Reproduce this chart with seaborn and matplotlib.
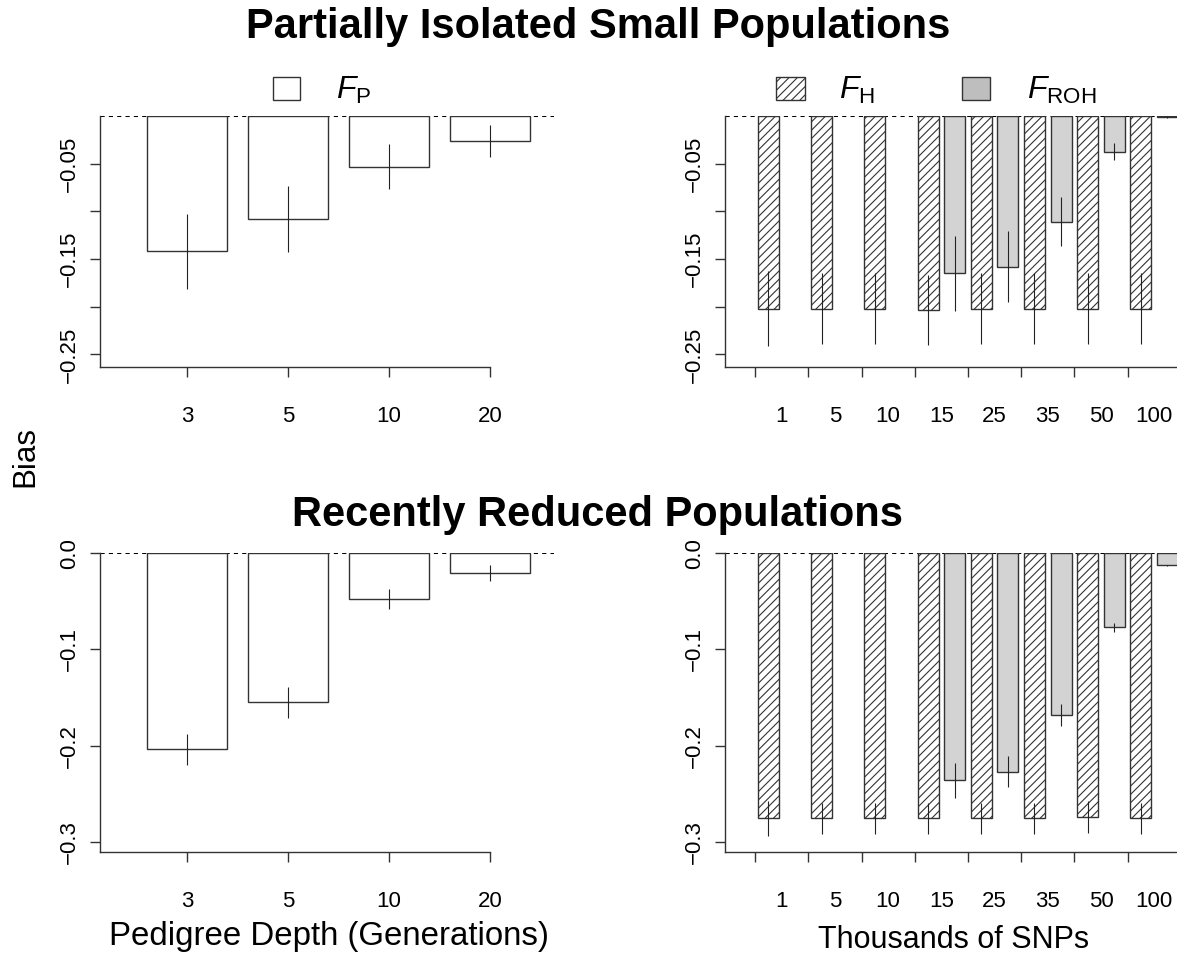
import numpy as np
import pandas as pd
import matplotlib
matplotlib.use("Agg")
import matplotlib.pyplot as plt
from matplotlib.patches import Rectangle
import seaborn as sns

# ---- data -------------------------------------------------------------
depth_labels = ["3", "5", "10", "20"]
isolated_fp = [-0.142, -0.108, -0.053, -0.026]
isolated_fp_err = [0.039, 0.035, 0.024, 0.017]
reduced_fp = [-0.204, -0.155, -0.0475, -0.0205]
reduced_fp_err = [0.016, 0.016, 0.0106, 0.0087]

snp_labels = ["1", "5", "10", "15", "25", "35", "50", "100"]
isolated_fh = [-0.202, -0.202, -0.202, -0.2034, -0.202, -0.202, -0.202, -0.202]
isolated_fh_err = [0.039, 0.037, 0.037, 0.037, 0.037, 0.037, 0.037, 0.037]
isolated_froh = [np.nan, np.nan, np.nan, -0.165, -0.158, -0.1107, -0.0373, -0.0015]
isolated_froh_err = [np.nan, np.nan, np.nan, 0.039, 0.037, 0.026, 0.009, 0.001]
reduced_fh = [-0.2757, -0.2757, -0.2757, -0.2757, -0.2757, -0.2757, -0.2744, -0.2757]
reduced_fh_err = [0.018, 0.016, 0.016, 0.016, 0.016, 0.016, 0.017, 0.016]
reduced_froh = [np.nan, np.nan, np.nan, -0.2362, -0.2272, -0.1686, -0.077, -0.0125]
reduced_froh_err = [np.nan, np.nan, np.nan, 0.018, 0.016, 0.0115, 0.0044, 0.0005]

top_yticks = [-0.05, -0.1, -0.15, -0.2, -0.25]
top_yticklabels = ["\u22120.05", "", "\u22120.15", "", "\u22120.25"]
bottom_yticks = [0.0, -0.1, -0.2, -0.3]
bottom_yticklabels = ["0.0", "\u22120.1", "\u22120.2", "\u22120.3"]

# ---- style ------------------------------------------------------------
sns.set_style("white")
plt.rcParams["font.family"] = ["Liberation Sans", "DejaVu Sans"]
plt.rcParams["mathtext.fontset"] = "custom"
plt.rcParams["mathtext.rm"] = "Liberation Sans"
plt.rcParams["mathtext.it"] = "Liberation Sans:italic"
plt.rcParams["hatch.linewidth"] = 0.8
plt.rcParams["text.color"] = "black"

INK = "#333333"
GRAY_BAR = "#d3d3d3"
GRAY_KEY = "#bebebe"
TICK_SIZE = 16

W, H = 1177, 959
fig = plt.figure(figsize=(W / 100, H / 100), dpi=100)
fig.patch.set_facecolor("white")


def rect(x0, x1, ytop, ybot):
    return [x0 / W, 1 - ybot / H, (x1 - x0) / W, (ybot - ytop) / H]


ax_tl = fig.add_axes(rect(99.9, 553.8, 116, 366.7))
ax_tr = fig.add_axes(rect(724.8, 1198.3, 116, 366.7))
ax_bl = fig.add_axes(rect(99.9, 553.8, 553.3, 852.3))
ax_br = fig.add_axes(rect(724.8, 1198.3, 553.3, 852.3))


def style_axis(ax, ylim, yticks, yticklabels, xlim, xlast):
    ax.set_xlim(*xlim)
    ax.set_ylim(*ylim)
    ax.axhline(0, color="black", lw=0.75, ls=(0, (4, 4)), zorder=0.5)
    for s in ("top", "right"):
        ax.spines[s].set_visible(False)
    for s in ("left", "bottom"):
        ax.spines[s].set_color(INK)
        ax.spines[s].set_linewidth(1.0)
    ax.spines["left"].set_bounds(ylim[0], 0)
    ax.spines["bottom"].set_bounds(xlim[0], xlast)
    ax.set_yticks(yticks)
    ax.set_yticklabels(yticklabels)
    ax.tick_params(axis="y", left=True, direction="out", length=7.2, width=1.0,
                   color=INK, labelcolor="black", labelsize=TICK_SIZE, pad=7,
                   labelrotation=90)
    for lab in ax.get_yticklabels():
        lab.set_va("center")
    ax.set_xlabel("")
    ax.set_ylabel("")
    ax.set_facecolor("white")


def pedigree_panel(ax, values, errs, ylim, yticks, yticklabels):
    df = pd.DataFrame({"depth": depth_labels, "bias": values})
    sns.barplot(data=df, x="depth", y="bias", order=depth_labels,
                color="white", width=0.79, edgecolor=INK, linewidth=1.0,
                errorbar=None, ax=ax, saturation=1)
    for p in ax.patches:
        cx = p.get_x() + p.get_width() / 2
        g = int(round(cx))
        v = p.get_y() + p.get_height()
        ax.vlines(cx, v - errs[g], v + errs[g], color="#222222", lw=0.8, zorder=3)
    style_axis(ax, ylim, yticks, yticklabels, (-0.862, 3.632), 3)
    ax.set_xticks(range(len(depth_labels)))
    ax.set_xticklabels(depth_labels)
    ax.tick_params(axis="x", bottom=True, direction="out", length=7.2, width=1.0,
                   color=INK, labelcolor="black", labelsize=TICK_SIZE, pad=21)


def snp_panel(ax, fh, fh_err, froh, froh_err, ylim, yticks, yticklabels):
    df = pd.DataFrame({
        "snps": snp_labels * 2,
        "estimator": ["FH"] * len(snp_labels) + ["FROH"] * len(snp_labels),
        "bias": list(fh) + list(froh),
    }).dropna()
    sns.barplot(data=df, x="snps", y="bias", hue="estimator",
                order=snp_labels, hue_order=["FH", "FROH"],
                palette={"FH": "white", "FROH": GRAY_BAR},
                width=1.0, gap=0.21, dodge=True, edgecolor=INK, linewidth=1.0,
                errorbar=None, legend=False, ax=ax, saturation=1)
    errs = {"FH": fh_err, "FROH": froh_err}
    for p in ax.patches:
        cx = p.get_x() + p.get_width() / 2
        g = int(round(cx))
        hue = "FH" if cx < g else "FROH"
        if hue == "FH":
            p.set_hatch("////")
        v = p.get_y() + p.get_height()
        e = errs[hue][g]
        ax.vlines(cx, v - e, v + e, color="#222222", lw=0.8, zorder=3)
    n = len(snp_labels)
    style_axis(ax, ylim, yticks, yticklabels, (-1.07, 7.83), n - 0.5)
    ax.set_xticks(range(n))
    ax.set_xticklabels(snp_labels)
    ax.set_xticks(np.arange(n + 1) - 0.5, minor=True)
    ax.tick_params(axis="x", which="major", bottom=True, direction="out",
                   length=7.2, width=0, color=(0, 0, 0, 0), labelcolor="black",
                   labelsize=TICK_SIZE, pad=21)
    ax.tick_params(axis="x", which="minor", bottom=True, direction="out",
                   length=7.2, width=1.0, color=INK)


pedigree_panel(ax_tl, isolated_fp, isolated_fp_err, (-0.2628, 0),
               top_yticks, top_yticklabels)
pedigree_panel(ax_bl, reduced_fp, reduced_fp_err, (-0.311, 0),
               bottom_yticks, bottom_yticklabels)
snp_panel(ax_tr, isolated_fh, isolated_fh_err, isolated_froh, isolated_froh_err,
          (-0.2628, 0), top_yticks, top_yticklabels)
snp_panel(ax_br, reduced_fh, reduced_fh_err, reduced_froh, reduced_froh_err,
          (-0.311, 0), bottom_yticks, bottom_yticklabels)

# ---- titles and labels -----------------------------------------------
fig.text(598 / W, 1 - 38.3 / H, "Partially Isolated Small Populations",
         fontsize=30, fontweight="bold", ha="center", va="baseline")
fig.text(598 / W, 1 - 526 / H, "Recently Reduced Populations",
         fontsize=30, fontweight="bold", ha="center", va="baseline")
fig.text(329 / W, 1 - 945 / H, "Pedigree Depth (Generations)",
         fontsize=23.8, ha="center", va="baseline")
fig.text(954 / W, 1 - 948 / H, "Thousands of SNPs",
         fontsize=22, ha="center", va="baseline")
fig.text(33.3 / W, 1 - 456.7 / H, "Bias", fontsize=22.5, rotation=90,
         rotation_mode="anchor", ha="center", va="baseline")


# ---- legends ----------------------------------------------------------
def key(x0, ytop, w, h, face, hatch=None):
    r = Rectangle((x0 / W, 1 - (ytop + h) / H), w / W, h / H,
                  transform=fig.transFigure, facecolor=face, edgecolor=INK,
                  lw=1.0, hatch=hatch)
    fig.add_artist(r)


key(272.6, 77.3, 27.5, 22.5, "white")
fig.text(336 / W, 1 - 99.3 / H, r"$F_{\mathrm{P}}$", fontsize=23,
         ha="left", va="baseline")
key(775.7, 77.0, 29.3, 23.0, "white", hatch="////")
fig.text(839 / W, 1 - 99.3 / H, r"$F_{\mathrm{H}}$", fontsize=23,
         ha="left", va="baseline")
key(961.7, 77.0, 28.3, 23.0, GRAY_KEY)
fig.text(1026.7 / W, 1 - 99.3 / H, r"$F_{\mathrm{ROH}}$", fontsize=23,
         ha="left", va="baseline")

fig.savefig("out.png", dpi=100, facecolor="white")
